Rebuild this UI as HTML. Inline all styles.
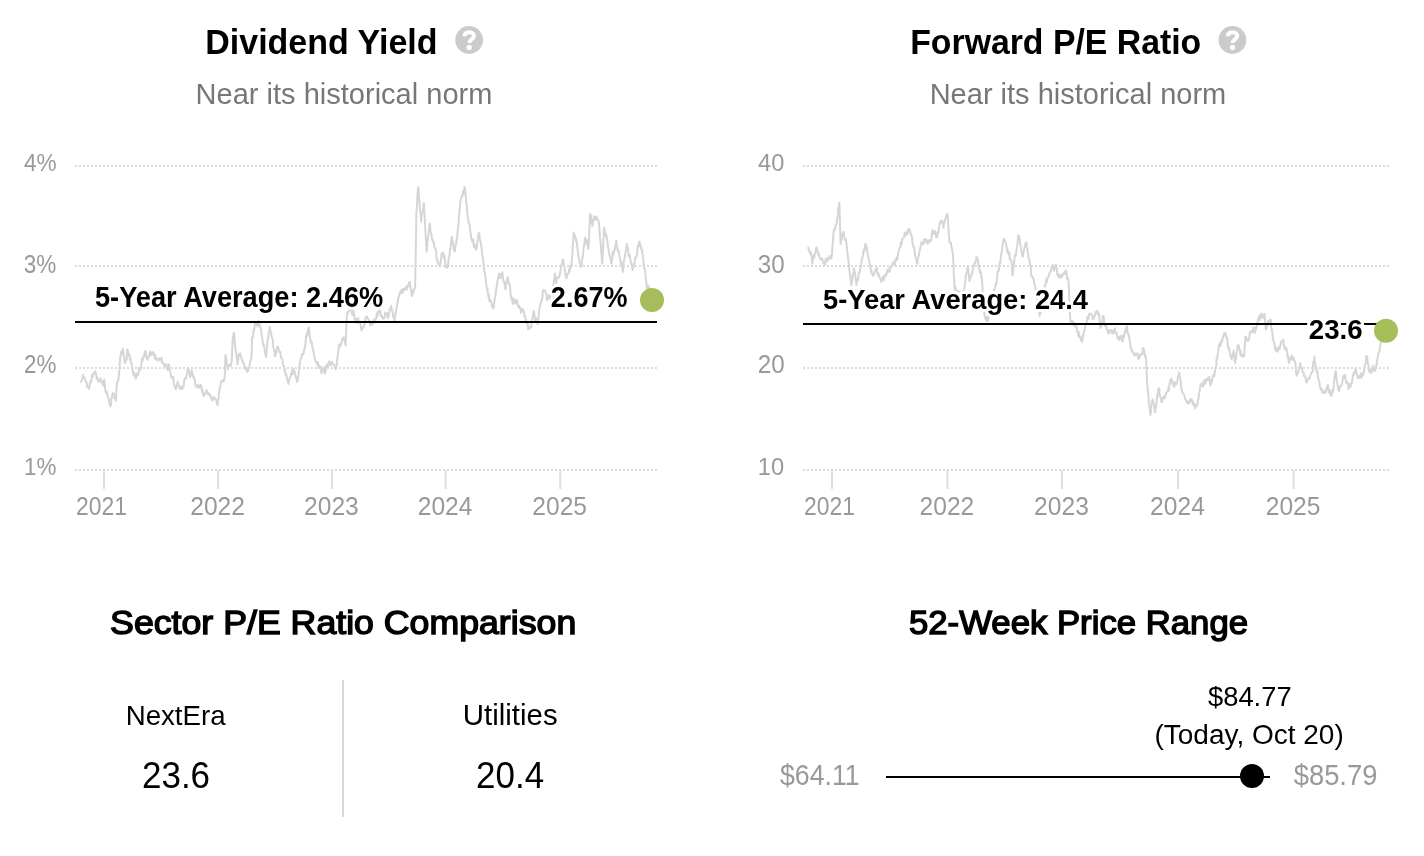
<!DOCTYPE html>
<html><head><meta charset="utf-8"><style>
html,body{margin:0;padding:0;background:#fff;width:1424px;height:856px;overflow:hidden}
svg{display:block;font-family:"Liberation Sans",sans-serif;will-change:transform}
</style></head><body>
<svg width="1424" height="856" viewBox="0 0 1424 856">
<line x1='75' y1='166' x2='657' y2='166' stroke='#dcdcdc' stroke-width='2' stroke-dasharray='2 2'/>
<line x1='803' y1='166' x2='1389' y2='166' stroke='#dcdcdc' stroke-width='2' stroke-dasharray='2 2'/>
<line x1='75' y1='266' x2='657' y2='266' stroke='#dcdcdc' stroke-width='2' stroke-dasharray='2 2'/>
<line x1='803' y1='266' x2='1389' y2='266' stroke='#dcdcdc' stroke-width='2' stroke-dasharray='2 2'/>
<line x1='75' y1='368' x2='657' y2='368' stroke='#dcdcdc' stroke-width='2' stroke-dasharray='2 2'/>
<line x1='803' y1='368' x2='1389' y2='368' stroke='#dcdcdc' stroke-width='2' stroke-dasharray='2 2'/>
<line x1='75' y1='470' x2='657' y2='470' stroke='#dcdcdc' stroke-width='2' stroke-dasharray='2 2'/>
<line x1='803' y1='470' x2='1389' y2='470' stroke='#dcdcdc' stroke-width='2' stroke-dasharray='2 2'/>
<line x1='104' y1='470' x2='104' y2='489' stroke='#dfdfdf' stroke-width='2'/>
<line x1='218.1' y1='470' x2='218.1' y2='489' stroke='#dfdfdf' stroke-width='2'/>
<line x1='331.9' y1='470' x2='331.9' y2='489' stroke='#dfdfdf' stroke-width='2'/>
<line x1='445.6' y1='470' x2='445.6' y2='489' stroke='#dfdfdf' stroke-width='2'/>
<line x1='560.2' y1='470' x2='560.2' y2='489' stroke='#dfdfdf' stroke-width='2'/>
<line x1='832' y1='470' x2='832' y2='489' stroke='#dfdfdf' stroke-width='2'/>
<line x1='947.4' y1='470' x2='947.4' y2='489' stroke='#dfdfdf' stroke-width='2'/>
<line x1='1062.0' y1='470' x2='1062.0' y2='489' stroke='#dfdfdf' stroke-width='2'/>
<line x1='1178.0' y1='470' x2='1178.0' y2='489' stroke='#dfdfdf' stroke-width='2'/>
<line x1='1293.6' y1='470' x2='1293.6' y2='489' stroke='#dfdfdf' stroke-width='2'/>
<polyline points="80.3,381.3 80.8,381.8 81.3,380.9 81.8,380.3 82.3,379.1 82.8,375.0 83.3,377.5 83.8,377.9 84.3,377.2 84.9,379.4 85.5,380.6 86.1,381.9 86.6,382.4 87.1,386.4 87.5,386.6 88.0,387.6 88.5,386.6 89.0,388.9 89.5,385.6 90.0,382.8 90.4,381.4 90.9,382.7 91.4,379.6 91.9,375.1 92.4,376.6 92.8,376.5 93.3,372.9 93.8,373.7 94.3,373.7 94.8,373.5 95.2,371.2 95.7,373.0 96.2,374.8 96.7,378.8 97.1,376.7 97.6,378.3 98.1,381.2 98.6,381.6 99.0,381.7 99.5,380.7 100.0,380.0 100.5,378.4 101.0,380.4 101.5,382.3 102.0,381.1 102.5,383.4 103.0,385.4 103.6,385.4 104.2,379.6 104.8,384.4 105.4,391.4 106.0,392.4 106.5,393.0 106.9,391.7 107.4,394.6 107.8,396.2 108.3,398.1 108.8,398.9 109.2,402.4 109.7,404.8 110.1,404.4 110.6,406.4 111.0,404.0 111.5,398.0 112.0,398.2 112.4,393.6 112.9,393.1 113.4,393.5 113.9,394.1 114.4,396.9 114.9,399.1 115.4,399.6 115.9,400.6 116.8,384.3 117.3,381.7 117.8,381.8 118.3,380.6 118.8,376.1 119.4,369.9 120.0,359.7 120.5,356.3 121.0,353.2 121.5,351.3 121.9,354.4 122.4,350.8 122.9,348.6 123.4,351.1 123.8,356.7 124.3,357.4 124.7,362.6 125.2,363.2 125.7,360.9 126.2,360.2 126.6,359.6 127.1,349.7 127.6,349.8 128.1,352.5 128.5,354.5 129.0,356.2 129.4,354.2 129.9,359.9 130.4,357.8 130.8,361.9 131.3,362.1 131.7,365.2 132.2,366.7 132.7,370.9 133.1,372.2 133.6,375.6 134.0,372.3 134.5,373.4 134.9,374.3 135.4,377.3 135.8,378.8 136.3,376.7 136.8,373.5 137.3,375.2 137.8,375.0 138.3,374.8 138.8,367.8 139.3,370.9 139.8,367.9 140.3,367.8 140.8,369.3 141.3,364.9 141.8,359.3 142.3,361.1 142.8,359.7 143.3,357.2 143.7,355.9 144.2,356.6 144.6,352.8 145.1,351.5 145.6,350.9 146.0,354.3 146.5,355.7 146.9,359.4 147.4,359.7 147.9,357.5 148.4,357.3 148.9,356.8 149.4,354.4 149.9,351.5 150.4,351.9 150.9,353.9 151.4,355.2 151.9,354.2 152.3,352.6 152.8,352.0 153.3,354.5 153.8,354.1 154.3,353.5 154.8,358.3 155.3,355.7 155.8,359.7 156.3,359.1 156.8,359.7 157.3,359.0 157.8,360.5 158.3,360.8 158.8,358.3 159.3,359.2 159.8,359.3 160.3,358.6 160.8,359.3 161.2,360.6 161.7,357.6 162.1,362.8 162.6,362.6 163.1,363.8 163.6,363.3 164.1,364.1 164.6,366.6 165.1,364.8 165.6,364.8 166.1,365.6 166.6,364.3 167.1,369.4 167.5,369.5 168.0,370.0 168.5,369.1 169.0,364.4 169.5,370.0 170.0,370.7 170.5,372.3 171.0,376.4 171.5,378.0 172.0,377.2 172.5,378.7 173.0,376.8 173.5,378.8 174.0,384.8 174.5,385.2 175.0,386.9 175.5,388.9 176.0,389.0 176.4,388.0 176.9,385.9 177.3,383.4 177.8,381.9 178.3,384.6 178.7,385.1 179.2,385.8 179.6,387.4 180.1,388.9 180.6,388.5 181.1,386.6 181.5,388.7 182.0,389.2 182.5,387.8 183.0,386.0 183.5,386.8 183.9,383.8 184.4,379.5 184.9,378.1 185.4,378.4 185.9,378.9 186.5,376.1 187.0,374.1 187.6,370.2 188.1,367.9 188.6,370.6 189.1,369.9 189.6,374.5 190.1,377.2 190.7,375.9 191.2,373.0 191.8,370.2 192.3,373.9 192.8,373.7 193.2,377.3 193.7,377.8 194.2,377.2 194.8,381.2 195.3,384.3 195.9,386.6 196.4,386.3 196.8,386.8 197.3,385.5 197.7,387.2 198.2,385.0 198.6,386.4 199.1,387.3 199.5,387.8 200.0,385.4 200.5,386.3 201.0,385.1 201.5,388.0 202.0,391.6 202.5,389.7 203.0,394.6 203.5,394.8 204.0,396.0 204.5,394.6 204.9,393.4 205.4,392.6 205.9,393.3 206.4,390.1 206.9,392.8 207.3,391.6 207.8,394.2 208.2,393.9 208.7,393.3 209.1,393.8 209.6,395.8 210.0,394.4 210.5,396.1 210.9,397.3 211.4,396.6 211.8,399.9 212.3,400.6 212.9,399.8 213.4,398.6 214.0,397.1 214.5,398.0 215.0,398.2 215.5,399.5 216.0,399.9 216.5,400.5 217.0,403.7 217.5,405.3 218.0,400.3 218.5,398.3 218.9,393.6 219.4,390.5 219.9,387.8 220.4,385.4 220.9,382.5 221.4,381.8 221.8,380.7 222.3,381.4 222.8,380.7 223.3,380.9 223.8,381.2 224.2,378.8 224.7,377.1 225.1,365.3 225.6,354.9 226.1,358.3 226.5,360.2 227.0,365.4 227.5,367.5 227.9,369.5 228.4,366.8 228.9,365.4 229.3,365.9 229.8,365.6 230.3,364.4 230.8,365.9 231.2,363.9 231.7,360.7 232.3,347.4 232.9,337.4 233.4,335.9 234.0,332.7 234.6,340.0 235.2,347.9 235.7,350.5 236.1,352.5 236.6,355.0 237.0,359.3 237.5,364.3 237.9,362.6 238.4,357.7 238.9,354.5 239.3,353.7 239.8,353.8 240.2,353.4 240.7,355.4 241.1,357.6 241.6,358.4 242.1,359.9 242.5,360.7 243.0,363.0 243.4,362.7 243.9,363.8 244.3,365.7 244.8,368.3 245.2,366.7 245.7,368.9 246.1,368.1 246.6,370.6 247.0,371.9 247.5,371.3 248.0,371.0 248.5,367.9 249.0,368.1 249.5,366.4 250.0,361.6 250.5,361.4 251.0,358.8 251.5,357.2 252.1,337.4 252.6,337.6 253.1,335.9 253.6,329.5 254.0,330.7 254.5,327.4 255.0,323.4 255.4,322.4 255.9,324.9 256.4,324.9 256.8,323.1 257.2,324.7 257.7,326.7 258.2,321.9 258.6,321.0 259.1,322.4 259.5,324.8 260.0,325.3 260.4,327.3 260.9,328.0 261.4,332.2 261.8,336.6 262.3,337.6 262.7,342.5 263.2,344.4 263.7,345.7 264.2,345.4 264.6,350.2 265.1,353.1 265.6,355.9 266.1,357.2 266.6,351.2 267.1,346.4 267.6,339.9 268.1,337.5 268.6,333.9 269.1,332.2 269.6,326.9 270.1,328.2 270.6,331.7 271.1,333.4 271.7,337.1 272.2,338.5 272.7,338.8 273.2,346.7 273.7,348.2 274.1,350.5 274.6,351.0 275.0,356.3 275.5,354.9 276.0,353.0 276.5,351.8 277.0,347.0 277.5,347.1 278.0,346.5 278.5,348.9 279.0,350.2 279.5,352.2 280.0,352.4 280.4,352.0 280.9,357.6 281.4,358.0 281.9,358.4 282.4,359.9 282.9,364.1 283.3,365.9 283.8,365.8 284.3,370.1 284.8,369.0 285.2,372.9 285.7,375.2 286.1,373.9 286.6,376.0 287.1,379.6 287.5,379.3 288.0,381.5 288.4,384.0 288.9,380.6 289.4,379.8 289.8,377.7 290.3,377.3 290.8,376.1 291.2,373.4 291.7,373.0 292.2,370.1 292.7,374.5 293.1,369.1 293.6,368.9 294.1,372.1 294.6,371.3 295.1,373.2 295.6,377.3 296.1,378.1 296.6,377.5 297.1,381.8 297.6,380.5 298.1,378.1 298.6,373.2 299.1,370.4 299.6,364.2 300.1,361.4 300.6,359.6 301.1,358.4 301.6,355.8 302.1,354.0 302.6,353.7 303.1,354.5 303.6,353.5 304.1,350.2 304.6,348.8 305.0,346.2 305.5,343.9 305.9,335.9 306.4,337.4 306.9,333.5 307.4,335.0 307.8,330.0 308.3,328.7 308.8,327.5 309.4,333.0 309.9,336.8 310.5,340.9 311.0,342.7 311.5,341.6 311.9,343.1 312.4,347.7 312.9,349.1 313.4,351.3 313.8,353.1 314.3,357.2 314.7,357.6 315.2,360.7 315.7,360.7 316.2,362.3 316.6,363.4 317.1,362.3 317.6,365.0 318.1,362.6 318.6,368.1 319.1,365.4 319.5,367.2 320.0,366.5 320.5,367.8 321.0,366.8 321.4,373.4 321.9,368.3 322.4,369.0 322.9,371.2 323.3,369.9 323.8,367.3 324.3,369.8 324.8,373.8 325.2,371.5 325.7,371.8 326.1,365.7 326.6,367.0 327.1,366.9 327.5,364.3 328.0,363.8 328.5,365.9 328.9,361.6 329.4,362.4 329.9,361.6 330.4,363.1 330.9,365.2 331.4,363.4 331.9,362.0 332.3,363.8 332.8,363.9 333.3,363.7 333.8,365.3 334.3,365.2 334.8,366.6 335.2,368.0 335.7,369.5 336.2,367.8 336.7,365.1 337.2,358.4 337.7,357.1 338.2,351.2 338.7,349.2 339.2,344.4 339.7,346.5 340.1,346.3 340.6,345.0 341.0,344.2 341.5,342.7 342.0,340.4 342.4,338.9 342.9,338.5 343.3,337.6 343.8,337.4 344.2,338.3 344.7,341.5 345.2,343.6 345.6,345.6 346.1,334.1 346.7,317.5 347.2,313.2 347.7,313.7 348.2,311.5 348.7,310.8 349.2,308.6 349.7,307.0 350.2,307.0 350.6,308.4 351.1,311.1 351.5,310.9 352.0,313.7 352.5,315.1 352.9,309.7 353.4,309.4 353.8,314.3 354.3,315.2 354.8,320.0 355.2,318.3 355.7,319.7 356.2,320.7 356.6,319.1 357.1,323.3 357.6,321.0 358.1,318.0 358.5,320.4 359.0,322.2 359.5,322.3 360.0,322.8 360.4,324.1 360.9,326.6 361.4,330.4 361.9,328.4 362.4,328.9 362.8,326.9 363.3,327.7 363.8,326.7 364.3,324.4 364.8,324.1 365.3,318.3 365.8,317.5 366.2,316.6 366.7,316.4 367.2,316.4 367.7,318.4 368.2,319.2 368.6,319.8 369.1,320.1 369.6,321.2 370.1,325.2 370.6,323.8 371.1,323.1 371.5,325.1 372.0,324.4 372.5,324.5 373.0,323.3 373.4,321.4 373.9,319.3 374.4,320.1 374.8,320.7 375.3,322.3 375.8,319.1 376.2,317.8 376.7,313.6 377.2,317.1 377.6,314.7 378.1,311.4 378.6,310.9 379.0,311.2 379.5,312.8 380.0,310.5 380.4,312.7 380.9,316.2 381.4,316.1 381.8,316.2 382.3,316.4 382.7,318.6 383.2,318.7 383.7,318.4 384.1,318.0 384.6,318.0 385.1,312.6 385.5,313.0 386.0,314.5 386.5,313.4 387.0,313.1 387.4,314.1 387.9,318.0 388.4,317.4 388.8,314.8 389.3,311.8 389.8,308.9 390.3,308.7 390.7,308.5 391.2,305.8 391.7,309.2 392.1,311.0 392.6,311.2 393.0,316.8 393.5,317.7 394.0,314.6 394.4,321.0 394.9,318.9 395.4,314.5 395.8,313.9 396.3,308.8 396.8,307.2 397.2,304.2 397.7,302.3 398.1,299.0 398.6,296.5 399.1,296.7 399.6,292.4 400.0,293.8 400.5,292.9 401.0,290.6 401.5,292.8 401.9,289.4 402.4,293.2 402.9,289.0 403.4,289.6 403.8,290.6 404.3,289.0 404.8,288.4 405.2,289.0 405.7,288.8 406.1,286.5 406.6,289.7 407.1,287.4 407.5,287.2 408.0,285.0 408.4,285.8 408.9,282.5 409.4,282.9 409.8,281.8 410.3,286.0 410.8,288.6 411.2,291.9 411.7,295.6 412.2,296.1 412.7,292.8 413.2,289.9 413.6,292.5 414.1,289.1 414.6,289.1 415.1,287.1 415.8,249.0 416.4,212.4 416.9,206.5 417.4,196.4 417.8,190.3 418.3,187.1 418.8,193.8 419.2,199.0 419.7,205.6 420.2,210.1 420.6,214.6 421.1,221.7 421.6,216.4 422.0,213.5 422.5,212.3 423.0,210.7 423.4,206.4 423.9,203.0 424.4,212.1 424.8,219.5 425.3,229.2 425.8,237.9 426.2,245.7 426.7,251.6 427.2,246.1 427.6,241.7 428.1,237.2 428.6,233.1 429.0,230.1 429.5,223.6 430.0,224.4 430.4,230.1 430.9,233.5 431.4,233.9 431.8,238.3 432.3,240.4 432.8,239.6 433.2,242.3 433.7,241.5 434.2,246.1 434.6,248.0 435.1,247.8 435.6,249.9 436.1,250.7 436.5,257.1 437.0,260.8 437.5,259.8 437.9,262.0 438.4,264.0 438.9,264.4 439.3,264.9 439.8,266.6 440.2,262.8 440.7,262.2 441.2,258.0 441.6,253.5 442.1,254.3 442.5,252.7 443.0,253.8 443.5,253.2 443.9,258.5 444.4,256.1 444.9,259.6 445.3,262.4 445.8,267.3 446.3,267.3 446.7,266.3 447.2,267.5 447.7,265.0 448.1,266.6 448.6,258.1 449.1,257.8 449.5,255.4 450.0,250.3 450.5,248.6 451.0,244.9 451.4,239.2 451.9,236.7 452.4,239.9 452.8,241.8 453.3,244.7 453.8,249.6 454.2,249.6 454.7,251.6 455.2,247.5 455.6,244.8 456.1,244.4 456.6,239.1 457.0,237.7 457.5,232.9 458.0,227.8 458.4,227.2 458.9,217.3 459.4,212.3 459.8,208.0 460.3,203.0 460.8,199.6 461.2,198.2 461.7,196.4 462.2,195.3 462.6,195.7 463.1,191.1 463.6,193.8 464.1,191.7 464.5,186.8 465.0,189.0 465.5,194.6 465.9,196.5 466.4,203.2 466.9,206.9 467.3,212.8 467.8,218.0 468.3,218.7 468.7,223.7 469.2,224.0 469.7,225.8 470.1,230.1 470.6,233.1 471.1,237.7 471.6,239.7 472.0,240.0 472.5,242.3 473.0,239.3 473.4,239.4 473.9,247.2 474.4,244.0 474.8,247.3 475.3,245.5 475.7,248.5 476.2,249.8 476.7,247.8 477.1,244.4 477.6,240.3 478.1,239.2 478.5,233.2 479.0,233.0 479.5,234.6 479.9,240.5 480.4,240.6 480.9,244.3 481.4,246.3 481.9,251.3 482.3,255.5 482.8,257.2 483.3,261.3 483.7,264.6 484.2,269.9 484.7,272.3 485.1,276.2 485.6,277.5 486.1,283.4 486.5,286.4 487.0,289.0 487.5,288.3 487.9,293.6 488.4,296.5 488.9,294.7 489.3,301.0 489.8,299.5 490.2,300.2 490.7,300.9 491.2,302.4 491.6,302.8 492.1,306.6 492.5,307.3 493.0,307.7 493.5,308.4 493.9,304.2 494.4,301.7 494.9,297.6 495.3,296.4 495.8,293.0 496.3,288.9 496.7,286.7 497.2,283.4 497.7,279.5 498.1,278.1 498.6,275.9 499.1,273.5 499.6,274.0 500.0,278.2 500.5,276.7 501.0,277.7 501.4,274.2 501.9,273.4 502.4,272.2 502.9,277.6 503.3,281.0 503.8,280.9 504.3,283.3 504.7,283.7 505.2,289.0 505.7,289.2 506.1,282.8 506.6,281.1 507.1,279.3 507.5,281.9 508.0,276.9 508.5,283.8 508.9,282.8 509.4,283.9 509.9,286.2 510.4,290.0 510.8,297.3 511.3,296.6 511.8,299.7 512.2,297.8 512.7,304.0 513.2,301.3 513.7,303.0 514.2,299.0 514.7,301.8 515.2,302.7 515.7,303.5 516.1,301.3 516.6,303.5 517.1,300.0 517.6,304.9 518.1,306.2 518.6,307.4 519.1,305.7 519.6,307.9 520.1,307.3 520.5,308.0 521.0,312.8 521.5,312.3 522.0,310.4 522.5,308.8 523.0,309.5 523.5,310.5 523.9,311.9 524.4,316.5 524.9,315.1 525.4,318.3 525.8,318.5 526.3,322.6 526.8,322.9 527.3,323.7 527.8,324.3 528.3,329.6 528.8,326.6 529.2,328.3 529.7,327.4 530.2,327.9 530.7,327.8 531.2,327.5 531.7,321.1 532.2,319.3 532.6,318.0 533.1,313.6 533.6,311.1 534.1,312.6 534.5,315.2 535.0,320.4 535.4,319.8 535.9,318.5 536.3,319.4 536.8,318.2 537.2,320.0 537.7,324.2 538.2,318.9 538.7,314.8 539.2,310.5 539.7,306.4 540.2,306.2 540.7,302.7 541.1,301.7 541.6,301.6 542.0,299.0 542.5,296.1 542.9,291.0 543.4,289.9 543.9,290.8 544.3,291.0 544.8,291.2 545.2,290.5 545.7,292.5 546.1,294.3 546.6,294.8 547.0,300.4 547.5,298.0 548.0,295.7 548.5,295.3 549.0,298.2 549.5,298.8 550.0,293.6 550.4,293.9 550.9,293.6 551.4,295.1 551.9,295.7 552.4,294.8 552.9,291.2 553.4,284.4 553.9,281.7 554.4,278.8 554.9,273.5 555.7,281.7 556.2,283.3 556.6,279.5 557.1,277.3 557.6,277.4 558.0,277.6 558.5,277.2 558.9,277.6 559.4,275.6 559.9,274.5 560.3,271.4 560.8,268.9 561.2,265.5 561.7,264.6 562.2,263.4 562.6,259.6 563.1,259.6 563.6,262.0 564.0,266.3 564.5,267.9 564.9,270.7 565.4,274.3 565.8,276.2 566.3,278.4 566.8,276.5 567.3,273.7 567.8,274.1 568.3,273.8 568.8,272.5 569.2,269.1 569.7,271.5 570.2,265.7 570.7,267.1 571.2,267.0 571.7,261.0 572.2,256.5 572.7,246.0 573.2,240.8 573.7,232.6 574.2,234.3 574.6,236.4 575.1,235.8 575.6,238.7 576.1,241.4 576.5,239.8 577.0,244.1 577.5,248.5 577.9,251.8 578.4,255.3 578.8,259.1 579.3,260.3 579.7,263.4 580.2,263.6 580.6,265.0 581.1,267.0 581.6,264.7 582.1,257.6 582.6,257.9 583.1,254.2 583.6,247.7 584.1,245.2 584.6,241.4 585.1,237.5 585.6,239.8 586.0,240.3 586.5,244.6 587.0,240.2 587.5,242.3 587.9,246.9 588.4,249.0 588.9,240.8 589.5,227.1 590.0,213.8 590.5,216.5 591.0,215.7 591.5,223.3 592.0,219.7 592.5,226.1 593.0,221.9 593.6,218.4 594.1,216.3 594.6,217.8 595.1,219.9 595.6,217.3 596.1,219.3 596.5,216.4 597.0,218.5 597.5,219.3 598.0,220.2 598.5,220.9 599.0,224.4 599.5,230.4 599.9,237.4 600.4,240.1 600.9,245.7 601.4,254.1 601.8,259.6 602.3,263.7 602.9,251.9 603.4,242.2 604.0,227.7 604.5,229.7 604.9,231.8 605.4,233.5 605.8,235.8 606.3,234.8 606.7,237.5 607.2,240.8 607.7,243.0 608.1,247.4 608.6,249.1 609.0,252.7 609.5,255.7 609.9,256.2 610.4,258.5 610.8,259.5 611.3,263.7 611.8,261.0 612.3,257.2 612.8,251.4 613.3,255.1 613.8,251.9 614.2,251.1 614.7,250.3 615.2,245.5 615.7,245.0 616.2,240.8 616.7,244.1 617.1,246.1 617.6,250.1 618.1,251.4 618.6,250.6 619.0,252.4 619.5,257.2 620.0,258.5 620.4,259.9 620.9,263.8 621.4,262.0 621.9,266.8 622.3,267.8 622.8,271.9 623.3,268.0 623.8,262.2 624.3,259.9 624.8,257.1 625.3,253.2 625.8,251.6 626.3,247.6 626.8,244.1 627.3,247.5 627.8,247.8 628.2,250.5 628.7,256.2 629.2,254.8 629.7,254.8 630.2,258.5 630.7,261.0 631.1,264.3 631.6,263.8 632.1,266.5 632.6,270.2 633.1,265.7 633.5,267.4 634.0,264.4 634.5,263.7 634.9,258.9 635.4,257.6 635.9,257.7 636.3,257.0 636.8,255.4 637.2,251.7 637.7,247.3 638.2,245.0 638.6,246.1 639.1,242.4 639.6,241.6 640.0,246.4 640.5,245.4 641.0,248.6 641.5,247.6 641.9,250.0 642.4,253.9 642.9,256.1 643.4,260.4 643.8,266.0 644.3,268.3 644.8,268.6 645.3,271.5 645.8,278.6 646.3,281.7 646.8,287.9 647.3,289.9 647.8,285.0 648.2,287.8 648.7,286.7 649.2,287.9 649.6,291.7 650.1,293.5 650.6,295.2 651.1,294.8 651.5,297.8 652.0,300.0" fill="none" stroke="#d6d6d6" stroke-width="2" stroke-linejoin="round"/>
<polyline points="808.2,246.5 808.7,249.5 809.3,251.2 809.8,252.2 810.3,254.4 810.8,252.4 811.3,254.8 811.8,257.4 812.3,263.7 812.8,259.5 813.2,258.0 813.7,255.1 814.1,258.3 814.6,255.1 815.0,253.2 815.5,251.9 815.9,249.5 816.4,247.3 816.9,248.5 817.5,252.5 818.0,252.2 818.5,255.5 819.0,253.6 819.4,256.5 819.9,257.9 820.4,259.2 820.9,258.6 821.3,259.6 821.8,258.3 822.3,258.6 822.8,261.2 823.2,262.9 823.7,263.7 824.2,263.0 824.6,262.1 825.1,264.6 825.6,259.2 826.1,260.9 826.5,259.4 827.0,258.0 827.5,261.3 828.0,258.8 828.5,258.6 829.0,258.8 829.5,257.7 829.9,256.1 830.4,256.4 830.9,257.3 831.4,258.6 831.9,255.5 832.4,246.5 833.0,240.4 833.5,232.6 834.0,229.6 834.4,230.5 834.9,229.0 835.4,226.5 835.9,224.9 836.3,225.0 836.8,222.8 837.3,217.8 837.8,217.1 838.3,208.0 838.8,206.5 839.3,202.4 840.0,223.1 840.6,244.1 841.1,240.6 841.7,239.3 842.2,234.1 842.8,233.5 843.3,231.8 843.8,232.9 844.3,235.8 844.8,239.2 845.3,240.6 845.8,239.2 846.3,241.1 846.7,247.2 847.2,251.1 847.7,254.3 848.2,260.1 848.6,262.4 849.1,267.0 849.6,271.8 850.1,274.1 850.5,278.3 851.0,281.3 851.5,285.0 852.0,281.5 852.5,278.5 853.0,273.9 853.5,273.1 854.0,268.6 854.5,271.6 855.0,272.4 855.4,277.1 855.9,279.5 856.4,285.0 856.9,281.9 857.4,280.6 857.9,280.5 858.3,276.9 858.8,272.9 859.3,272.1 859.8,272.0 860.3,269.0 860.8,265.8 861.2,264.5 861.7,261.1 862.2,257.2 862.7,257.3 863.1,253.7 863.6,250.0 864.0,251.9 864.5,249.7 864.9,247.1 865.4,244.1 865.9,244.3 866.3,249.5 866.8,247.0 867.3,251.8 867.8,254.7 868.2,257.2 868.7,258.8 869.2,260.2 869.6,263.6 870.1,264.8 870.5,266.6 871.0,271.8 871.4,270.3 871.9,273.7 872.3,273.6 872.8,275.1 873.3,275.5 873.7,275.9 874.2,273.3 874.7,271.9 875.2,270.0 875.6,270.9 876.1,270.2 876.6,267.6 877.1,271.7 877.6,273.8 878.1,275.5 878.5,273.5 879.0,276.1 879.5,276.9 880.0,278.0 880.5,278.6 881.0,281.7 881.5,279.7 881.9,280.5 882.4,278.4 882.8,279.2 883.3,276.2 883.7,280.5 884.2,277.5 884.6,276.2 885.1,275.5 885.6,274.4 886.0,276.0 886.5,273.8 886.9,273.3 887.4,269.4 887.8,271.9 888.3,271.9 888.8,269.6 889.3,268.6 889.8,271.4 890.3,267.1 890.8,266.9 891.2,266.3 891.7,267.0 892.2,264.1 892.7,263.5 893.2,262.1 893.7,263.3 894.2,264.1 894.7,265.1 895.2,260.0 895.7,260.5 896.1,259.0 896.6,257.6 897.1,260.1 897.6,257.1 898.1,253.9 898.6,251.2 899.0,249.6 899.5,247.9 899.9,247.7 900.4,247.6 900.8,242.6 901.3,245.0 901.7,241.8 902.2,239.2 902.7,238.4 903.2,238.2 903.7,237.8 904.2,236.2 904.7,232.6 905.2,232.9 905.7,235.3 906.2,232.8 906.7,234.5 907.2,234.3 907.6,230.1 908.1,232.1 908.6,231.4 909.1,228.8 909.6,229.3 910.1,231.4 910.5,232.7 911.0,235.4 911.5,235.4 912.0,236.4 912.4,242.0 912.9,244.1 913.4,247.2 913.9,247.6 914.4,247.6 914.9,255.1 915.4,256.1 915.9,258.3 916.4,259.4 916.9,263.7 917.4,263.7 917.8,259.2 918.3,256.4 918.8,255.7 919.3,252.6 919.7,249.7 920.2,249.0 920.7,245.2 921.2,244.3 921.6,241.8 922.1,244.5 922.6,244.2 923.0,243.1 923.5,244.2 924.0,239.2 924.5,242.2 925.0,240.5 925.4,239.2 925.9,239.2 926.4,241.3 926.9,242.9 927.4,242.6 927.9,243.7 928.3,240.1 928.8,240.5 929.3,242.1 929.8,241.7 930.3,240.2 930.8,240.8 931.3,238.7 931.8,235.8 932.3,230.3 932.8,234.2 933.3,231.0 933.8,231.7 934.2,233.4 934.7,233.3 935.1,231.0 935.6,232.7 936.0,237.1 936.5,234.4 936.9,237.0 937.4,235.9 937.9,232.1 938.3,232.4 938.8,229.1 939.3,226.5 939.8,223.1 940.2,222.8 940.7,221.2 941.2,220.6 941.6,220.5 942.1,222.8 942.5,222.3 943.0,222.1 943.4,227.8 943.9,224.4 944.4,223.2 944.9,220.6 945.4,218.7 945.9,217.6 946.4,214.6 947.0,216.2 947.6,214.3 948.2,223.9 948.8,234.2 949.4,242.3 949.9,242.2 950.4,243.1 950.9,242.7 951.4,247.3 951.9,247.8 952.4,251.5 952.9,254.6 953.5,266.5 954.0,279.2 954.6,289.6 955.1,286.0 955.7,289.1 956.2,290.4 956.8,292.7 957.3,293.1 957.8,292.0 958.2,290.8 958.7,292.5 959.2,291.7 959.6,291.7 960.1,294.9 960.6,291.5 961.0,292.4 961.5,292.3 962.0,291.5 962.4,294.6 962.9,291.6 963.4,291.7 963.8,290.6 964.3,289.6 964.8,284.5 965.3,281.3 965.8,276.3 966.3,273.3 966.8,271.9 967.3,268.0 967.8,266.8 968.4,271.5 968.9,275.1 969.5,280.9 970.0,279.7 970.4,277.1 970.9,276.0 971.4,275.6 971.8,274.8 972.3,272.2 972.8,269.7 973.2,268.0 973.7,265.0 974.1,265.3 974.6,263.1 975.1,263.5 975.5,261.3 976.0,260.0 976.5,256.8 976.9,258.1 977.4,258.1 977.9,259.4 978.4,265.7 978.9,266.2 979.4,269.7 979.8,272.2 980.3,272.9 980.8,271.5 981.3,277.8 981.8,277.4 982.3,285.0 982.8,293.2 983.4,298.5 983.9,305.7 984.4,314.2 984.9,316.4 985.4,318.3 985.9,319.5 986.4,320.9 986.9,318.3 987.4,316.2 987.9,321.2 988.4,317.9 988.9,315.5 989.3,315.1 989.8,310.0 990.3,308.6 990.8,305.6 991.3,303.3 991.8,306.1 992.2,297.0 992.7,297.3 993.2,293.1 993.7,290.8 994.2,289.8 994.7,288.0 995.2,287.2 995.7,283.1 996.2,285.0 996.7,280.9 997.2,277.6 997.7,271.9 998.2,270.3 998.7,271.2 999.1,265.2 999.6,263.0 1000.1,263.7 1000.6,259.3 1001.1,254.6 1001.6,252.6 1002.1,249.7 1002.7,244.1 1003.2,241.3 1003.7,238.8 1004.2,239.0 1004.6,240.2 1005.1,241.1 1005.6,241.7 1006.0,244.4 1006.5,247.5 1007.0,247.8 1007.4,252.4 1007.9,250.3 1008.3,252.5 1008.8,255.0 1009.3,252.6 1009.7,259.7 1010.2,258.4 1010.7,259.8 1011.1,260.2 1011.6,261.6 1012.5,275.6 1013.0,272.6 1013.4,269.5 1013.9,263.8 1014.4,259.3 1014.8,256.0 1015.3,254.7 1015.8,255.7 1016.3,252.4 1016.7,247.5 1017.2,246.1 1017.7,242.2 1018.1,235.3 1018.6,236.2 1019.1,236.3 1019.6,238.8 1020.1,243.1 1020.6,245.8 1021.0,248.9 1021.5,252.8 1022.0,252.4 1022.5,256.6 1023.0,256.3 1023.5,251.9 1024.0,249.4 1024.5,247.6 1025.0,246.1 1025.5,243.1 1026.0,244.0 1026.5,242.3 1027.0,247.9 1027.4,249.6 1027.9,253.3 1028.4,257.3 1028.9,258.0 1029.3,259.3 1029.8,263.1 1030.3,265.2 1030.8,266.2 1031.2,275.8 1031.7,275.6 1032.2,276.2 1032.7,277.3 1033.2,278.2 1033.7,279.9 1034.2,283.8 1034.7,284.2 1035.2,286.1 1035.7,289.6 1036.2,292.3 1036.7,295.7 1037.2,299.2 1037.6,304.8 1038.1,308.6 1038.6,309.9 1039.1,310.3 1039.6,315.9 1040.1,312.9 1040.6,313.2 1041.0,307.3 1041.5,304.4 1042.0,304.5 1042.5,299.6 1042.9,296.4 1043.4,294.6 1043.9,291.3 1044.4,287.7 1044.8,285.4 1045.3,286.1 1045.8,282.6 1046.3,279.2 1046.8,281.9 1047.2,278.3 1047.7,278.4 1048.2,277.0 1048.7,275.9 1049.1,275.6 1049.6,272.8 1050.1,272.1 1050.6,271.6 1051.1,268.7 1051.5,267.4 1052.0,268.1 1052.5,267.0 1053.0,264.9 1053.4,268.7 1053.9,270.8 1054.4,268.3 1054.9,268.6 1055.3,267.1 1055.8,264.8 1056.3,266.8 1056.8,268.6 1057.3,274.5 1057.9,275.7 1058.4,274.2 1058.9,277.4 1059.4,275.3 1059.8,275.8 1060.3,275.4 1060.8,277.8 1061.2,276.7 1061.7,276.7 1062.2,276.4 1062.6,273.7 1063.1,274.6 1063.6,273.9 1064.0,273.2 1064.5,272.8 1065.0,273.8 1065.4,271.0 1065.9,270.3 1066.4,272.0 1066.9,278.2 1067.5,279.4 1068.0,278.3 1068.5,280.9 1069.1,293.8 1069.7,306.7 1070.3,321.2 1070.8,321.8 1071.2,323.7 1071.7,323.9 1072.2,321.1 1072.6,321.8 1073.1,324.2 1073.6,322.1 1074.1,325.4 1074.5,323.7 1075.0,324.2 1075.5,326.8 1075.9,326.9 1076.4,326.4 1076.9,329.3 1077.4,332.3 1077.9,332.3 1078.4,336.3 1078.8,332.1 1079.3,336.1 1079.8,337.3 1080.3,336.8 1080.8,340.4 1081.3,340.1 1081.8,337.6 1082.3,341.6 1082.8,335.1 1083.2,337.5 1083.7,333.4 1084.2,330.6 1084.7,329.9 1085.2,326.4 1085.7,324.8 1086.1,323.7 1086.6,322.9 1087.1,319.3 1087.5,316.9 1088.0,316.6 1088.5,318.9 1089.0,314.4 1089.4,314.0 1089.9,313.2 1090.4,314.0 1090.8,314.5 1091.3,314.2 1091.8,314.5 1092.3,315.4 1092.7,319.2 1093.2,317.4 1093.7,318.6 1094.2,317.2 1094.6,316.6 1095.1,314.3 1095.6,311.9 1096.1,313.4 1096.6,313.2 1097.1,310.7 1097.6,311.5 1098.1,313.1 1098.6,315.6 1099.1,314.0 1099.6,320.0 1100.0,323.7 1100.5,328.0 1101.0,326.8 1101.4,326.4 1101.9,322.6 1102.4,322.9 1102.8,315.8 1103.3,317.5 1103.8,316.9 1104.2,324.0 1104.7,325.9 1105.2,325.3 1105.7,323.9 1106.2,325.9 1106.7,329.2 1107.2,329.8 1107.7,330.8 1108.2,333.6 1108.7,333.8 1109.2,330.3 1109.7,330.8 1110.1,330.5 1110.6,331.6 1111.1,330.0 1111.6,331.8 1112.1,333.0 1112.6,332.9 1113.0,333.7 1113.5,330.1 1114.0,330.3 1114.5,330.1 1115.0,328.3 1115.4,333.0 1115.9,333.2 1116.3,332.9 1116.8,332.8 1117.2,337.5 1117.7,337.8 1118.1,338.6 1118.6,337.0 1119.0,339.9 1119.5,336.7 1119.9,339.1 1120.4,336.6 1120.8,337.8 1121.3,335.6 1121.7,338.5 1122.2,341.4 1122.7,341.4 1123.2,338.1 1123.6,335.1 1124.1,336.8 1124.6,332.1 1125.1,332.8 1125.5,329.1 1126.0,329.3 1126.5,327.3 1127.0,326.1 1127.5,332.6 1128.1,334.1 1128.6,335.0 1129.1,337.1 1129.7,341.1 1130.2,343.2 1130.7,348.4 1131.2,347.7 1131.6,350.8 1132.1,350.2 1132.6,352.5 1133.0,351.7 1133.5,352.4 1134.0,355.1 1134.4,355.5 1134.9,355.5 1135.4,354.1 1135.8,353.7 1136.3,354.7 1136.8,353.8 1137.3,353.3 1137.8,355.0 1138.3,359.2 1138.8,354.7 1139.3,355.1 1139.8,357.5 1140.3,354.3 1140.8,354.3 1141.3,354.3 1141.8,353.8 1142.3,354.5 1142.8,347.9 1143.3,349.1 1143.8,349.4 1144.2,349.2 1144.7,355.4 1145.2,356.9 1145.6,355.9 1146.1,358.9 1146.6,371.0 1147.0,379.0 1147.5,386.9 1148.0,392.3 1148.4,394.9 1148.9,403.9 1149.4,406.6 1149.8,409.8 1150.3,415.0 1150.8,412.9 1151.3,405.5 1151.9,401.9 1152.4,399.5 1152.9,402.2 1153.3,401.9 1153.8,404.3 1154.3,406.9 1154.7,410.9 1155.2,412.2 1155.7,408.2 1156.2,405.3 1156.7,399.7 1157.2,395.0 1157.7,395.4 1158.2,389.2 1158.7,388.3 1159.2,388.4 1159.6,393.4 1160.1,397.3 1160.6,397.6 1161.0,398.5 1161.5,402.3 1162.0,402.2 1162.4,400.1 1162.9,397.7 1163.4,396.7 1163.8,397.1 1164.3,396.6 1164.8,398.4 1165.2,395.0 1165.7,395.3 1166.2,393.1 1166.6,392.2 1167.1,391.7 1167.6,391.7 1168.0,391.7 1168.5,387.2 1169.0,390.5 1169.4,384.4 1169.9,382.3 1170.4,380.0 1170.8,379.2 1171.3,378.5 1171.8,379.9 1172.2,382.1 1172.7,384.8 1173.2,384.1 1173.6,383.2 1174.1,386.9 1174.6,384.0 1175.0,382.0 1175.5,384.6 1176.0,384.5 1176.4,383.3 1176.9,383.3 1177.4,381.9 1177.8,376.5 1178.3,376.1 1178.8,374.9 1179.2,372.4 1179.7,376.4 1180.2,378.1 1180.7,381.5 1181.2,387.5 1181.7,389.2 1182.2,392.2 1182.7,392.8 1183.2,393.9 1183.7,394.4 1184.1,394.7 1184.6,396.2 1185.1,399.1 1185.5,399.5 1186.0,400.4 1186.5,400.5 1186.9,403.0 1187.4,403.0 1187.9,402.0 1188.3,401.8 1188.8,403.7 1189.3,403.1 1189.7,400.6 1190.2,401.1 1190.6,398.9 1191.1,399.0 1191.5,398.9 1192.0,402.0 1192.4,400.3 1192.9,404.1 1193.3,402.8 1193.8,405.4 1194.2,404.6 1194.7,404.0 1195.1,408.5 1195.6,404.9 1196.0,405.6 1196.5,406.5 1197.0,405.0 1197.5,404.2 1197.9,401.3 1198.4,399.1 1198.9,395.5 1199.3,392.2 1199.8,390.7 1200.3,385.4 1200.8,386.1 1201.2,383.9 1201.7,383.6 1202.2,385.5 1202.7,383.9 1203.1,386.8 1203.6,381.5 1204.1,381.8 1204.5,379.9 1205.0,383.8 1205.5,381.2 1205.9,382.5 1206.4,379.8 1206.9,380.2 1207.3,378.2 1207.8,380.0 1208.3,378.7 1208.7,376.9 1209.2,377.1 1209.7,381.3 1210.1,383.8 1210.6,385.5 1211.1,379.8 1211.5,382.9 1212.0,381.7 1212.5,378.7 1212.9,375.6 1213.4,375.0 1213.9,375.3 1214.3,376.0 1214.8,372.5 1215.3,369.0 1215.7,368.0 1216.2,365.9 1216.7,357.6 1217.1,358.2 1217.6,354.9 1218.1,351.9 1218.5,348.9 1219.0,344.9 1219.5,345.7 1219.9,343.3 1220.4,346.1 1220.9,343.4 1221.3,340.4 1221.8,342.1 1222.3,340.7 1222.8,337.6 1223.3,336.3 1223.8,335.5 1224.3,333.0 1224.8,335.1 1225.3,332.9 1225.8,334.5 1226.3,337.6 1226.8,337.5 1227.3,339.5 1227.8,345.4 1228.2,348.1 1228.7,347.1 1229.2,350.1 1229.7,352.5 1230.2,353.3 1230.7,356.9 1231.2,356.2 1231.7,359.1 1232.2,356.5 1232.7,354.6 1233.2,352.5 1233.7,350.5 1234.2,355.7 1234.6,361.3 1235.1,363.1 1235.5,358.7 1236.0,359.1 1236.4,353.3 1236.9,351.7 1237.3,350.1 1237.8,344.9 1238.3,346.2 1238.8,345.6 1239.3,349.2 1239.8,350.1 1240.3,354.4 1240.8,351.3 1241.3,356.1 1241.8,355.3 1242.2,355.9 1242.7,356.2 1243.2,357.0 1243.6,353.8 1244.1,356.1 1244.6,348.5 1245.0,342.6 1245.5,336.4 1246.0,337.6 1246.5,338.8 1247.0,338.8 1247.5,340.6 1248.0,340.9 1248.5,340.3 1249.0,339.3 1249.5,335.6 1249.9,332.0 1250.4,331.7 1250.9,332.3 1251.3,331.0 1251.8,332.2 1252.3,332.3 1252.7,329.7 1253.2,327.6 1253.7,331.1 1254.1,329.4 1254.6,333.1 1255.1,327.4 1255.5,330.2 1256.0,329.4 1256.5,327.4 1257.0,325.0 1257.6,322.3 1258.1,318.2 1258.5,319.6 1259.0,319.7 1259.5,315.4 1259.9,320.2 1260.3,314.6 1260.8,317.8 1261.2,316.1 1261.7,313.6 1262.2,316.9 1262.6,314.7 1263.0,316.8 1263.5,318.1 1264.0,315.1 1264.4,314.0 1264.9,318.3 1265.3,323.0 1265.8,329.4 1266.3,326.0 1266.8,328.2 1267.3,324.9 1267.8,322.5 1268.2,320.8 1268.7,321.0 1269.2,320.3 1269.7,322.4 1270.2,322.4 1270.7,319.6 1271.2,327.3 1271.8,329.5 1272.4,332.7 1272.9,339.3 1273.4,340.8 1273.8,341.1 1274.3,343.5 1274.8,346.3 1275.2,348.9 1275.7,350.5 1276.2,351.2 1276.6,350.7 1277.1,348.3 1277.6,351.7 1278.0,347.8 1278.5,348.8 1279.0,347.1 1279.4,349.2 1279.9,347.0 1280.4,345.5 1280.8,343.5 1281.3,341.6 1281.8,341.3 1282.2,341.0 1282.7,340.7 1283.2,339.9 1283.7,344.4 1284.2,346.0 1284.6,348.7 1285.1,348.0 1285.6,349.6 1286.1,347.7 1286.6,349.5 1287.1,351.3 1287.5,357.2 1288.0,356.0 1288.5,360.9 1289.0,363.1 1289.5,360.8 1290.0,360.2 1290.6,357.3 1291.1,357.5 1291.6,355.4 1292.0,359.1 1292.5,359.8 1293.0,359.4 1293.4,357.2 1293.9,359.0 1294.4,360.3 1294.8,361.9 1295.3,361.7 1295.8,367.9 1296.2,373.3 1296.7,375.7 1297.2,373.9 1297.7,372.1 1298.2,372.8 1298.7,369.1 1299.2,366.5 1299.7,367.8 1300.2,363.1 1300.7,365.5 1301.2,367.2 1301.7,367.7 1302.1,369.7 1302.6,372.3 1303.1,371.9 1303.6,372.8 1304.1,376.4 1304.6,375.5 1305.0,376.8 1305.5,377.1 1306.0,381.9 1306.5,382.7 1307.0,382.3 1307.5,380.3 1308.0,379.4 1308.5,378.1 1309.0,377.7 1309.4,378.6 1309.9,376.8 1310.4,375.2 1310.9,373.9 1311.4,372.9 1311.9,372.1 1312.4,372.1 1312.9,369.2 1313.4,361.4 1313.9,361.0 1314.4,356.5 1314.9,361.7 1315.4,364.8 1315.9,369.3 1316.4,367.3 1316.9,371.9 1317.4,371.3 1317.9,377.7 1318.4,378.5 1318.9,381.2 1319.4,382.3 1319.9,386.0 1320.4,388.7 1320.8,389.4 1321.3,390.4 1321.8,388.9 1322.3,392.6 1322.8,392.3 1323.3,392.1 1323.8,392.7 1324.2,391.3 1324.7,393.4 1325.2,390.4 1325.6,392.8 1326.1,388.8 1326.6,389.3 1327.0,387.8 1327.5,385.5 1328.0,385.0 1328.4,389.0 1328.9,392.3 1329.4,391.2 1329.8,390.4 1330.3,394.5 1330.8,393.2 1331.2,395.9 1331.7,395.3 1332.2,390.3 1332.6,391.3 1333.1,391.8 1333.6,387.2 1334.0,382.0 1334.5,378.8 1335.0,375.0 1335.4,371.2 1335.9,371.5 1336.4,378.7 1336.8,379.6 1337.3,383.1 1337.8,386.3 1338.2,388.9 1338.7,391.1 1339.2,390.9 1339.6,387.0 1340.1,387.2 1340.6,385.6 1341.0,386.0 1341.5,385.7 1342.0,382.8 1342.4,381.6 1342.9,376.6 1343.4,375.6 1343.8,378.1 1344.3,375.7 1344.8,375.5 1345.2,374.9 1345.7,380.1 1346.2,382.9 1346.7,381.6 1347.2,383.6 1347.6,382.7 1348.1,384.1 1348.6,388.9 1349.0,384.3 1349.5,386.1 1350.0,386.9 1350.5,386.7 1350.9,384.6 1351.4,382.7 1351.9,383.0 1352.3,380.0 1352.8,377.0 1353.3,374.4 1353.7,372.8 1354.2,374.8 1354.7,371.9 1355.1,371.9 1355.6,368.7 1356.1,370.6 1356.7,373.4 1357.2,374.4 1357.7,378.5 1358.2,377.1 1358.7,376.0 1359.2,377.1 1359.7,377.7 1360.2,375.6 1360.6,376.1 1361.1,372.9 1361.6,377.7 1362.1,376.3 1362.6,375.7 1363.1,374.8 1363.5,373.2 1364.0,372.0 1364.5,367.4 1364.9,365.2 1365.4,364.2 1365.9,362.7 1366.3,355.7 1366.8,356.1 1367.3,358.2 1367.7,363.1 1368.2,364.1 1368.7,366.2 1369.1,370.8 1369.6,372.1 1370.1,372.4 1370.5,370.0 1371.0,372.9 1371.5,372.3 1371.9,368.1 1372.4,368.9 1372.9,370.2 1373.3,365.7 1373.8,367.5 1374.3,369.8 1374.7,371.1 1375.2,370.1 1375.7,368.5 1376.1,367.1 1376.6,364.3 1377.1,360.5 1377.5,358.1 1378.0,356.1 1378.5,352.9 1378.9,352.3 1379.4,351.6 1379.9,346.9 1380.3,345.5 1380.8,342.1 1381.3,342.5 1381.7,338.7 1382.2,337.3 1382.7,334.5 1383.2,336.2 1383.6,337.2 1384.1,337.9 1384.6,336.8 1385.1,335.7 1385.5,333.2 1386.0,331.0" fill="none" stroke="#d6d6d6" stroke-width="2" stroke-linejoin="round"/>
<line x1="75" y1="322" x2="657" y2="322" stroke="#000" stroke-width="2"/>
<line x1="803" y1="324" x2="1386" y2="324" stroke="#000" stroke-width="2"/>
<text transform='translate(205.31,53.90) scale(0.9455,1)' font-weight='700' font-size='35.94' fill='#000'>Dividend Yield</text>
<text transform='translate(910.20,53.70) scale(0.9521,1)' font-weight='700' font-size='35.51' fill='#000'>Forward P/E Ratio</text>
<text transform='translate(195.58,104.00) scale(1.0117,1)' font-weight='400' font-size='28.70' fill='#777'>Near its historical norm</text>
<text transform='translate(929.68,103.90) scale(1.0110,1)' font-weight='400' font-size='28.70' fill='#777'>Near its historical norm</text>
<text transform='translate(23.90,170.60) scale(0.9171,1)' font-weight='400' font-size='24.64' fill='#999'>4%</text>
<text transform='translate(23.81,272.80) scale(0.8943,1)' font-weight='400' font-size='25.22' fill='#999'>3%</text>
<text transform='translate(24.01,372.80) scale(0.8886,1)' font-weight='400' font-size='25.22' fill='#999'>2%</text>
<text transform='translate(23.97,474.80) scale(0.9152,1)' font-weight='400' font-size='24.49' fill='#999'>1%</text>
<text transform='translate(758.00,170.70) scale(0.9593,1)' font-weight='400' font-size='24.64' fill='#999'>40</text>
<text transform='translate(757.83,272.80) scale(0.9692,1)' font-weight='400' font-size='24.93' fill='#999'>30</text>
<text transform='translate(757.83,372.80) scale(0.9692,1)' font-weight='400' font-size='24.93' fill='#999'>20</text>
<text transform='translate(757.86,474.80) scale(0.9680,1)' font-weight='400' font-size='24.49' fill='#999'>10</text>
<text transform='translate(94.97,307.00) scale(0.9291,1)' font-weight='700' font-size='29.28' fill='#000' stroke='#fff' stroke-width='6' stroke-linejoin='round' paint-order='stroke'>5-Year Average: 2.46%</text>
<text transform='translate(550.87,307.20) scale(0.9321,1)' font-weight='700' font-size='28.99' fill='#000' stroke='#fff' stroke-width='6' stroke-linejoin='round' paint-order='stroke'>2.67%</text>
<text transform='translate(823.03,308.70) scale(0.9710,1)' font-weight='700' font-size='28.12' fill='#000' stroke='#fff' stroke-width='6' stroke-linejoin='round' paint-order='stroke'>5-Year Average: 24.4</text>
<text transform='translate(1308.83,338.90) scale(0.9667,1)' font-weight='700' font-size='28.55' fill='#000' stroke='#fff' stroke-width='6' stroke-linejoin='round' paint-order='stroke'>23.6</text>
<text transform='translate(110.11,633.90) scale(1.0897,1)' font-weight='400' font-size='32.75' fill='#000' stroke='#000' stroke-width='1.4'>Sector P/E Ratio Comparison</text>
<text transform='translate(909.00,633.90) scale(1.0602,1)' font-weight='400' font-size='32.75' fill='#000' stroke='#000' stroke-width='1.4'>52-Week Price Range</text>
<text transform='translate(125.66,724.90) scale(0.9693,1)' font-weight='400' font-size='28.55' fill='#000'>NextEra</text>
<text transform='translate(462.79,725.00) scale(1.0054,1)' font-weight='400' font-size='29.28' fill='#000'>Utilities</text>
<text transform='translate(141.99,788.30) scale(0.9544,1)' font-weight='400' font-size='36.67' fill='#000'>23.6</text>
<text transform='translate(476.09,788.30) scale(0.9536,1)' font-weight='400' font-size='36.67' fill='#000'>20.4</text>
<text transform='translate(1208.00,705.90) scale(0.9776,1)' font-weight='400' font-size='27.97' fill='#000'>$84.77</text>
<text transform='translate(1154.40,743.70) scale(1.0016,1)' font-weight='400' font-size='27.97' fill='#000'>(Today, Oct 20)</text>
<text transform='translate(780.00,785.00) scale(0.9247,1)' font-weight='400' font-size='28.84' fill='#999'>$64.11</text>
<text transform='translate(1293.70,785.00) scale(0.9494,1)' font-weight='400' font-size='28.84' fill='#999'>$85.79</text>
<text transform='translate(76.09,514.90) scale(0.9130,1)' font-weight='400' font-size='25.07' fill='#999'>2021</text>
<text transform='translate(804.09,514.90) scale(0.9130,1)' font-weight='400' font-size='25.07' fill='#999'>2021</text>
<text transform='translate(190.22,514.90) scale(0.9815,1)' font-weight='400' font-size='25.07' fill='#999'>2022</text>
<text transform='translate(919.52,514.90) scale(0.9815,1)' font-weight='400' font-size='25.07' fill='#999'>2022</text>
<text transform='translate(304.02,514.90) scale(0.9815,1)' font-weight='400' font-size='25.07' fill='#999'>2023</text>
<text transform='translate(1034.12,514.90) scale(0.9815,1)' font-weight='400' font-size='25.07' fill='#999'>2023</text>
<text transform='translate(417.72,514.90) scale(0.9815,1)' font-weight='400' font-size='25.07' fill='#999'>2024</text>
<text transform='translate(1150.12,514.90) scale(0.9815,1)' font-weight='400' font-size='25.07' fill='#999'>2024</text>
<text transform='translate(532.32,514.90) scale(0.9815,1)' font-weight='400' font-size='25.07' fill='#999'>2025</text>
<text transform='translate(1265.72,514.90) scale(0.9815,1)' font-weight='400' font-size='25.07' fill='#999'>2025</text>
<circle cx="652" cy="300" r="12" fill="#a6bd5a"/>
<circle cx="1386" cy="330.8" r="12" fill="#a6bd5a"/>
<circle cx="469.1" cy="40" r="13.9" fill="#cbcbcb"/>
<g transform="translate(0.0,0)"><path d="M464.3,36.3 C464.6,33.6 466.6,32.2 469.2,32.2 C471.9,32.2 474.0,33.9 474.0,36.1 C474.0,38.9 469.3,39.4 469.3,42.9" fill="none" stroke="#fff" stroke-width="3.9"/><circle cx="469.2" cy="47.4" r="2.6" fill="#fff"/></g>
<circle cx="1232.4" cy="40" r="13.9" fill="#cbcbcb"/>
<g transform="translate(763.3,0)"><path d="M464.3,36.3 C464.6,33.6 466.6,32.2 469.2,32.2 C471.9,32.2 474.0,33.9 474.0,36.1 C474.0,38.9 469.3,39.4 469.3,42.9" fill="none" stroke="#fff" stroke-width="3.9"/><circle cx="469.2" cy="47.4" r="2.6" fill="#fff"/></g>
<line x1="343" y1="680" x2="343" y2="817" stroke="#d8d8d8" stroke-width="2"/>
<line x1="886" y1="777" x2="1270" y2="777" stroke="#000" stroke-width="2"/>
<circle cx="1252" cy="776" r="12" fill="#000"/>
</svg>
</body></html>
